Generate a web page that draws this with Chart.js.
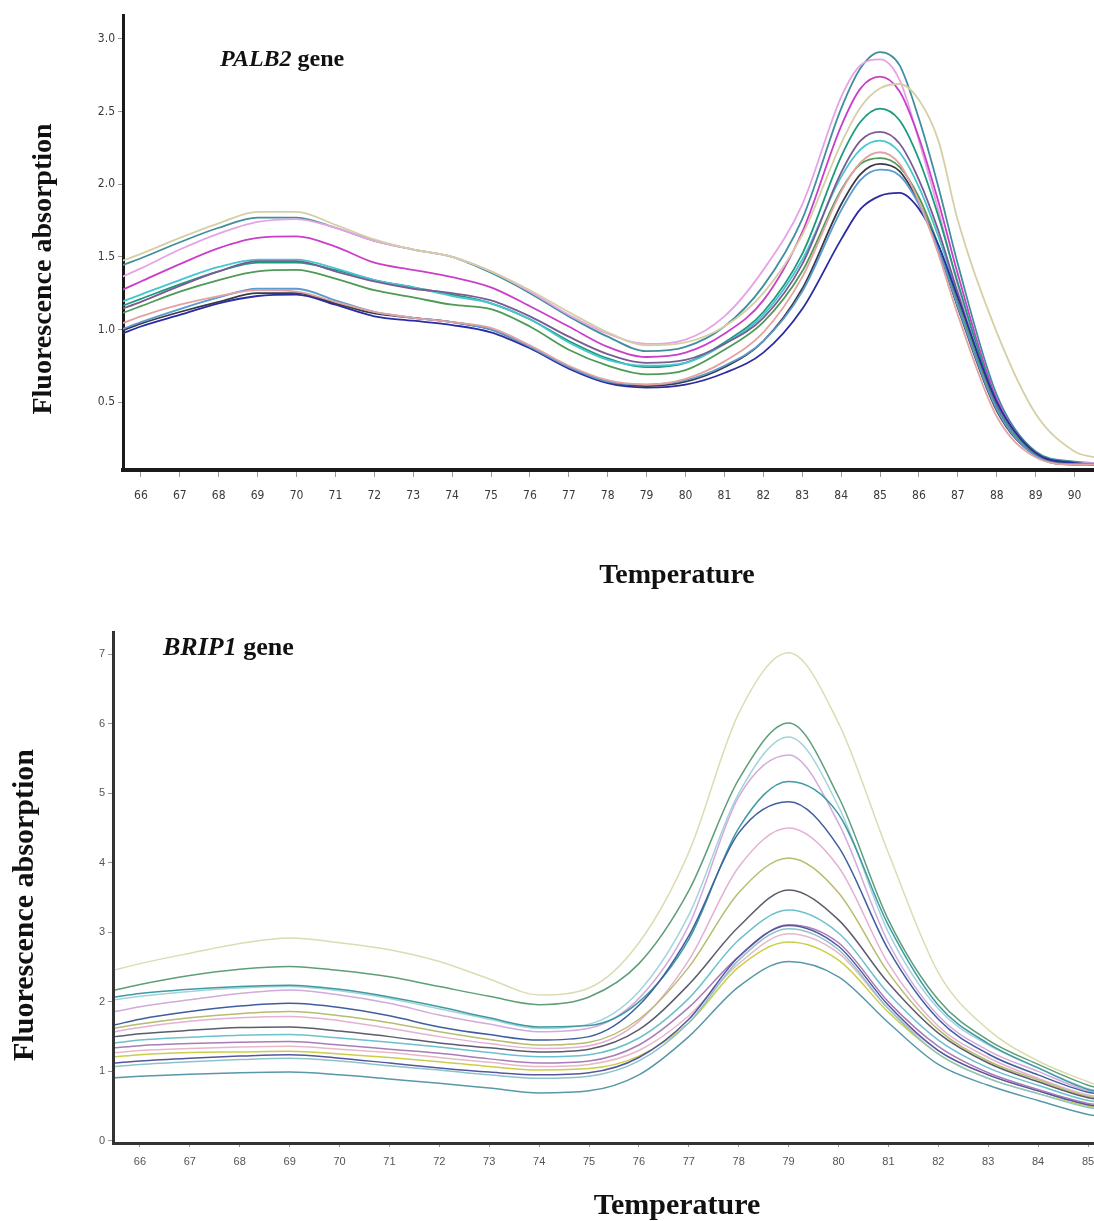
<!DOCTYPE html>
<html>
<head>
<meta charset="utf-8">
<script src="https://cdn.jsdelivr.net/npm/chart.js@4.4.0/dist/chart.umd.min.js"></script>
<style>
  body { margin: 0; background: #fff; }
  .wrap { position: absolute; left: 0; }
</style>
</head>
<body>
<div class="wrap" style="top:0"><canvas id="palb2" width="1094" height="610"></canvas></div>
<div class="wrap" style="top:610px"><canvas id="brip1" width="1094" height="611"></canvas></div>
<script>
// PALB2 melt curves (temperature in °C, fluorescence)
const palbTemps = [65.5,66,67,68,69,70,71,72,73,74,75,76,77,78,79,80,81,82,83,84,84.5,85,85.5,86,86.5,87,88,89,90,90.5];
const palbBeige     = [1.47,1.52,1.63,1.73,1.81,1.81,1.72,1.62,1.55,1.50,1.40,1.27,1.12,0.98,0.89,0.91,1.02,1.25,1.65,2.28,2.53,2.66,2.69,2.58,2.30,1.75,0.98,0.42,0.16,0.12];
const palbTeal      = [1.44,1.49,1.60,1.70,1.77,1.77,1.70,1.61,1.55,1.50,1.39,1.25,1.09,0.95,0.85,0.88,1.02,1.30,1.76,2.52,2.80,2.91,2.82,2.45,1.98,1.45,0.55,0.16,0.09,0.08];
const palbPink      = [1.36,1.42,1.55,1.66,1.74,1.76,1.70,1.61,1.55,1.50,1.40,1.26,1.10,0.97,0.90,0.93,1.09,1.41,1.86,2.60,2.82,2.86,2.72,2.30,1.82,1.30,0.50,0.15,0.08,0.08];
const palbMagenta   = [1.27,1.33,1.45,1.56,1.63,1.64,1.57,1.46,1.41,1.36,1.29,1.16,1.02,0.88,0.81,0.84,0.97,1.20,1.67,2.40,2.66,2.74,2.64,2.32,1.88,1.38,0.52,0.15,0.08,0.07];
const palbGreenTeal = [1.16,1.21,1.31,1.40,1.46,1.46,1.41,1.34,1.29,1.24,1.18,1.07,0.92,0.80,0.74,0.77,0.91,1.12,1.52,2.19,2.43,2.52,2.44,2.17,1.78,1.32,0.50,0.15,0.08,0.07];
const palbCyan      = [1.19,1.24,1.34,1.43,1.48,1.48,1.42,1.34,1.29,1.23,1.18,1.07,0.91,0.79,0.75,0.77,0.90,1.10,1.48,2.05,2.24,2.30,2.22,1.98,1.64,1.24,0.48,0.14,0.08,0.07];
const palbPurple    = [1.14,1.19,1.30,1.40,1.47,1.47,1.40,1.33,1.28,1.25,1.20,1.09,0.95,0.83,0.77,0.79,0.90,1.08,1.45,2.08,2.30,2.36,2.28,2.03,1.68,1.25,0.47,0.14,0.08,0.07];
const palbGreen     = [1.11,1.16,1.26,1.34,1.40,1.41,1.35,1.27,1.22,1.17,1.14,1.02,0.86,0.75,0.69,0.72,0.86,1.05,1.40,1.96,2.14,2.18,2.12,1.91,1.58,1.19,0.46,0.14,0.08,0.07];
const palbSalmon    = [1.04,1.09,1.17,1.23,1.27,1.26,1.19,1.12,1.08,1.05,1.01,0.89,0.75,0.65,0.62,0.66,0.78,0.98,1.36,1.95,2.15,2.22,2.14,1.88,1.52,1.10,0.40,0.12,0.07,0.07];
const palbBlack     = [0.99,1.04,1.12,1.19,1.25,1.25,1.18,1.11,1.08,1.05,1.00,0.88,0.74,0.64,0.61,0.64,0.74,0.92,1.28,1.86,2.07,2.14,2.09,1.87,1.55,1.15,0.44,0.13,0.07,0.07];
const palbLightBlue = [1.00,1.05,1.14,1.22,1.28,1.28,1.20,1.12,1.08,1.05,1.00,0.88,0.74,0.64,0.62,0.65,0.75,0.92,1.26,1.82,2.03,2.10,2.06,1.86,1.55,1.16,0.45,0.13,0.07,0.07];
const palbNavy      = [0.97,1.02,1.10,1.18,1.23,1.24,1.17,1.09,1.06,1.03,0.98,0.87,0.73,0.63,0.60,0.62,0.70,0.84,1.14,1.62,1.83,1.92,1.94,1.83,1.58,1.22,0.50,0.15,0.08,0.07];
const palbXTicks = [66,67,68,69,70,71,72,73,74,75,76,77,78,79,80,81,82,83,84,85,86,87,88,89,90];
const palbYTicks = [0.5,1.0,1.5,2.0,2.5,3.0];

// BRIP1 melt curves
const bripTemps = [65.5,66,67,68,69,70,71,72,73,74,75,76,77,78,79,80,81,82,83,84,85,85.2];
const bripBeige     = [2.46,2.55,2.70,2.84,2.92,2.85,2.75,2.58,2.33,2.10,2.20,2.85,4.15,6.15,7.02,6.01,4.14,2.42,1.60,1.15,0.85,0.80];
const bripGreen     = [2.17,2.25,2.38,2.47,2.51,2.45,2.36,2.22,2.08,1.96,2.07,2.55,3.60,5.20,6.01,4.95,3.18,2.03,1.45,1.10,0.80,0.76];
const bripLightCyan = [2.03,2.08,2.15,2.20,2.22,2.16,2.05,1.90,1.75,1.62,1.68,2.15,3.25,5.00,5.81,4.81,3.00,1.90,1.38,1.05,0.75,0.72];
const bripLilac     = [1.86,1.93,2.03,2.12,2.17,2.10,1.98,1.81,1.68,1.57,1.62,2.05,3.10,4.95,5.55,4.57,2.85,1.80,1.30,1.00,0.72,0.70];
const bripTeal      = [2.07,2.12,2.18,2.22,2.24,2.18,2.07,1.93,1.77,1.64,1.66,2.00,2.90,4.50,5.17,4.70,3.10,1.95,1.40,1.05,0.74,0.71];
const bripBlue      = [1.67,1.75,1.86,1.94,1.98,1.92,1.80,1.64,1.53,1.45,1.50,1.95,2.95,4.43,4.88,4.23,2.75,1.75,1.25,0.95,0.70,0.68];
const bripPink      = [1.57,1.63,1.72,1.77,1.79,1.73,1.62,1.50,1.40,1.33,1.37,1.72,2.60,3.94,4.50,3.94,2.55,1.65,1.20,0.90,0.66,0.64];
const bripOlive     = [1.62,1.68,1.77,1.83,1.86,1.80,1.70,1.57,1.46,1.38,1.42,1.75,2.50,3.57,4.07,3.57,2.42,1.60,1.15,0.88,0.64,0.62];
const bripGrey      = [1.50,1.54,1.59,1.63,1.64,1.58,1.50,1.41,1.34,1.28,1.32,1.60,2.25,3.08,3.61,3.18,2.27,1.55,1.12,0.85,0.62,0.60];
const bripCyan      = [1.41,1.45,1.49,1.52,1.53,1.48,1.42,1.35,1.27,1.21,1.24,1.48,2.05,2.89,3.32,2.99,2.12,1.45,1.05,0.80,0.58,0.56];
const bripMauve     = [1.34,1.37,1.40,1.42,1.43,1.38,1.32,1.26,1.18,1.12,1.15,1.38,1.92,2.65,3.11,2.85,2.00,1.36,0.98,0.74,0.54,0.52];
const bripRose      = [1.27,1.30,1.33,1.35,1.36,1.32,1.27,1.20,1.13,1.07,1.10,1.30,1.80,2.55,2.98,2.70,1.90,1.30,0.95,0.72,0.52,0.50];
const bripYellow    = [1.21,1.24,1.27,1.28,1.29,1.25,1.20,1.14,1.07,1.02,1.04,1.22,1.70,2.50,2.86,2.60,1.85,1.25,0.90,0.68,0.50,0.48];
const bripNavy      = [1.12,1.15,1.19,1.22,1.24,1.19,1.12,1.05,0.99,0.95,0.98,1.20,1.75,2.65,3.10,2.80,1.95,1.30,0.95,0.72,0.52,0.50];
const bripLightTeal = [1.07,1.10,1.14,1.17,1.19,1.15,1.08,1.02,0.95,0.90,0.93,1.15,1.70,2.60,3.05,2.75,1.90,1.25,0.90,0.68,0.48,0.46];
const bripLowTeal   = [0.91,0.93,0.96,0.98,0.99,0.95,0.89,0.83,0.76,0.69,0.72,0.95,1.50,2.22,2.58,2.36,1.70,1.10,0.80,0.58,0.38,0.36];
const bripXTicks = [66,67,68,69,70,71,72,73,74,75,76,77,78,79,80,81,82,83,84,85];
const bripYTicks = [0,1,2,3,4,5,6,7];

// free text drawn on the canvas (axis titles, gene names)
const textPlugin = {
  id: 'freeText',
  afterDraw(chart, args, opts) {
    const ctx = chart.ctx;
    (opts.items || []).forEach(item => {
      ctx.save();
      ctx.translate(item.x, item.y);
      if (item.rotate) ctx.rotate(item.rotate);
      ctx.fillStyle = '#111';
      ctx.textBaseline = 'middle';
      ctx.textAlign = 'left';
      let total = 0;
      item.parts.forEach(p => { ctx.font = p.font; total += ctx.measureText(p.text).width; });
      let x = item.align === 'center' ? -total / 2 : 0;
      item.parts.forEach(p => {
        ctx.font = p.font;
        ctx.fillText(p.text, x, 0);
        x += ctx.measureText(p.text).width;
      });
      ctx.restore();
    });
  }
};

const serif = "'Liberation Serif', 'Times New Roman', serif";

function toPoints(temps, vals) {
  return temps.map((t, i) => ({ x: t, y: vals[i] }));
}

function buildChart(id, cfg) {
  const datasets = cfg.series.map(s => ({
    data: toPoints(cfg.temps, s[0]),
    borderColor: s[1],
    borderWidth: cfg.lineWidth,
    pointRadius: 0,
    fill: false,
    cubicInterpolationMode: 'monotone',
  }));

  return new Chart(document.getElementById(id), {
    type: 'line',
    data: { datasets },
    options: {
      responsive: false,
      devicePixelRatio: 1,
      animation: false,
      layout: { padding: { top: cfg.top, right: 0, left: 0, bottom: 0 } },
      plugins: {
        legend: { display: false },
        tooltip: { enabled: false },
        freeText: { items: cfg.texts },
      },
      scales: {
        x: {
          type: 'linear',
          min: cfg.xMin,
          max: cfg.xMax,
          afterBuildTicks: s => { s.ticks = cfg.xTicks.map(v => ({ value: v })); },
          afterFit: s => { s.height = cfg.xHeight; s.paddingLeft = 0; s.paddingRight = 0; },
          border: { color: cfg.axisColor, width: cfg.xBorder },
          grid: { drawOnChartArea: false, tickLength: cfg.tickLen, color: '#999' },
          ticks: {
            autoSkip: false, maxRotation: 0, padding: cfg.xPad,
            color: cfg.tickColor, font: cfg.tickFont,
            callback: v => String(v),
          },
        },
        y: {
          min: cfg.yMin,
          max: cfg.yMax,
          afterBuildTicks: s => { s.ticks = cfg.yTicks.map(v => ({ value: v })); },
          afterFit: s => { s.width = cfg.yWidth; s.paddingTop = 0; s.paddingBottom = 0; },
          border: { color: cfg.axisColor, width: cfg.yBorder },
          grid: { drawOnChartArea: false, tickLength: 5, color: '#999' },
          ticks: {
            padding: 3, color: cfg.tickColor, font: cfg.tickFont,
            callback: cfg.yFmt,
          },
        },
      },
    },
    plugins: [textPlugin],
  });
}

buildChart('palb2', {
  temps: palbTemps,
  series: [
    [palbBeige, '#d6cfa6'], [palbSalmon, '#e3a3a3'], [palbLightBlue, '#5a9bd0'],
    [palbBlack, '#3a3a48'], [palbNavy, '#2b2ba3'], [palbGreen, '#4e9a56'],
    [palbPurple, '#7b5b93'], [palbCyan, '#47c6cf'], [palbGreenTeal, '#1b9a7c'],
    [palbMagenta, '#c93fc9'], [palbPink, '#e6a3e6'], [palbTeal, '#3f8f9c'],
  ],
  lineWidth: 1.8,
  top: 15, xHeight: 140, yWidth: 123,
  xMin: 65.54, xMax: 90.5, yMin: 0.032, yMax: 3.165,
  xTicks: palbXTicks, yTicks: palbYTicks,
  yFmt: v => v.toFixed(1),
  axisColor: '#1a1a1a', xBorder: 4, yBorder: 3,
  tickLen: 7, xPad: 12,
  tickColor: '#3a3a3a',
  tickFont: { family: "'Liberation Sans Narrow', 'DejaVu Sans Condensed', sans-serif", size: 12 },
  texts: [
    { x: 44, y: 269, rotate: -Math.PI / 2, align: 'center',
      parts: [{ text: 'Fluorescence absorption', font: 'bold 28px ' + serif }] },
    { x: 677, y: 576, align: 'center',
      parts: [{ text: 'Temperature', font: 'bold 28px ' + serif }] },
    { x: 220, y: 60,
      parts: [{ text: 'PALB2', font: 'italic bold 24px ' + serif }, { text: ' gene', font: 'bold 24px ' + serif }] },
  ],
});

buildChart('brip1', {
  temps: bripTemps,
  series: [
    [bripLowTeal, '#5898a8'], [bripLightTeal, '#8cc4cc'], [bripNavy, '#56569e'],
    [bripYellow, '#c8d048'], [bripRose, '#e8b8c8'], [bripMauve, '#a87cb8'],
    [bripCyan, '#6cc0cc'], [bripGrey, '#5c5c6c'], [bripOlive, '#b6bd6e'],
    [bripPink, '#e4b0d4'], [bripBlue, '#3e5e9e'], [bripTeal, '#3f9aa2'],
    [bripLilac, '#d2aadb'], [bripLightCyan, '#a2d4dc'], [bripGreen, '#5e9e78'],
    [bripBeige, '#dcdcb2'],
  ],
  lineWidth: 1.5,
  top: 22, xHeight: 78, yWidth: 113,
  xMin: 65.46, xMax: 85.12, yMin: -0.03, yMax: 7.32,
  xTicks: bripXTicks, yTicks: bripYTicks,
  yFmt: v => String(v),
  axisColor: '#333', xBorder: 3, yBorder: 3,
  tickLen: 4, xPad: 8,
  tickColor: '#555',
  tickFont: { family: "'Liberation Sans', Arial, sans-serif", size: 11 },
  texts: [
    { x: 25, y: 295, rotate: -Math.PI / 2, align: 'center',
      parts: [{ text: 'Fluorescence absorption', font: 'bold 30px ' + serif }] },
    { x: 677, y: 596, align: 'center',
      parts: [{ text: 'Temperature', font: 'bold 30px ' + serif }] },
    { x: 163, y: 38,
      parts: [{ text: 'BRIP1', font: 'italic bold 26px ' + serif }, { text: ' gene', font: 'bold 26px ' + serif }] },
  ],
});
</script>
</body>
</html>
